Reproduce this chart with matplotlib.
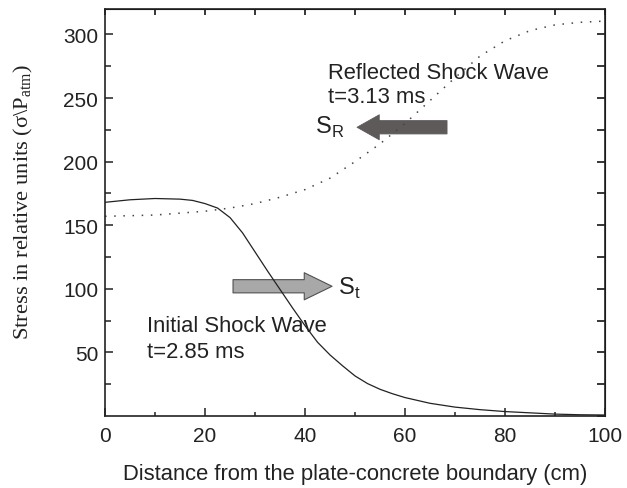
import matplotlib
matplotlib.use("Agg")
import matplotlib.pyplot as plt
from matplotlib.patches import FancyArrowPatch, ArrowStyle

# distance from the plate-concrete boundary (cm)
x_initial = [0, 5, 10, 15, 17.5, 20, 22.5, 25, 27.5, 30, 32.5, 35, 37.5, 40, 42.5,
             45, 47.5, 50, 52.5, 55, 57.5, 60, 65, 70, 75, 80, 85, 90, 95, 100]
stress_initial = [168, 170, 171, 170.5, 169.5, 167, 163.5, 156, 144, 129, 114, 99.5,
                  85, 71, 58, 48, 39.5, 31.5, 25.5, 21, 17.5, 14.5, 10, 7, 5, 3.5,
                  2.5, 1.5, 1, 0.8]

x_reflected = [0, 5, 10, 15, 20, 25, 30, 35, 40, 45, 50, 55, 60, 65, 70, 75,
               80, 85, 90, 95, 100]
stress_reflected = [157, 157.5, 158, 159.5, 161, 163.5, 167, 172, 178, 187, 200, 214,
                    230, 248, 266, 283, 295, 303, 307.5, 309.5, 310.5]

x_ticks = [0, 20, 40, 60, 80, 100]
y_ticks = [50, 100, 150, 200, 250, 300]

plt.rcParams["font.family"] = ["Liberation Sans", "DejaVu Sans"]
plt.rcParams["mathtext.fontset"] = "custom"
plt.rcParams["mathtext.rm"] = "Liberation Serif"
plt.rcParams["mathtext.sf"] = "Liberation Sans"

INK = "#222222"

fig = plt.figure(figsize=(6.27, 4.89), dpi=100)
ax = fig.add_axes([0.1675, 0.1472, 0.7975, 0.8324])

ax.plot(x_initial, stress_initial, color=INK, lw=0.9)
ax.plot(x_reflected, stress_reflected, color="#444444", lw=1.1, ls=(0, (1, 5)))

ax.set_xlim(0, 100)
ax.set_ylim(0, 320)
ax.set_xticks(x_ticks)
ax.set_xticks(range(10, 100, 20), minor=True)
ax.set_yticks(y_ticks)
ax.set_yticks(range(25, 300, 50), minor=True)
ax.tick_params(which="both", direction="in", labelsize=15, colors=INK)
ax.tick_params(axis="x", which="major", length=6, width=1.1, pad=7)
ax.tick_params(axis="x", which="minor", length=3, width=1.1)
ax.tick_params(axis="y", which="major", length=6, width=1.1, pad=5)
ax.tick_params(axis="y", which="minor", length=4, width=1.1)
for sp in ax.spines.values():
    sp.set_linewidth(1.2)
    sp.set_color(INK)

top = ax.secondary_xaxis("top")
top.set_xticks(range(0, 101, 10))
top.tick_params(direction="in", length=4, width=1.1, labeltop=False)
right = ax.secondary_yaxis("right")
right.set_yticks(range(0, 321, 25))
right.tick_params(direction="in", length=6, width=1.1, labelright=False)

ax.set_xlabel("Distance from the plate-concrete boundary (cm)", fontsize=15.8,
              color=INK, labelpad=13)
ax.set_ylabel(r"Stress in relative units (σ\P$_{\rm atm}$)", fontsize=16.2,
              family="Liberation Serif", color=INK)
ax.yaxis.set_label_coords(-0.14, 0.528)

ax.text(44.6, 270, "Reflected Shock Wave", fontsize=15.8, color=INK, va="center")
ax.text(44.6, 251, "t=3.13 ms", fontsize=15.8, color=INK, va="center")
ax.text(42, 228, r"$\mathsf{S}_\mathsf{R}$", fontsize=17, color=INK, va="center")
ax.text(8.4, 71, "Initial Shock Wave", fontsize=15.8, color=INK, va="center")
ax.text(8.4, 51, "t=2.85 ms", fontsize=15.8, color=INK, va="center")
ax.text(46.6, 101, r"$\mathsf{S}_\mathsf{t}$", fontsize=17, color=INK, va="center")

arr_r = FancyArrowPatch((68.4, 227), (50.4, 227),
                        arrowstyle=ArrowStyle.Simple(head_length=1.6, head_width=1.8,
                                                     tail_width=0.96),
                        mutation_scale=10, shrinkA=0, shrinkB=0,
                        fc="#5e5a5a", ec="#5e5a5a", lw=0.6)
ax.add_patch(arr_r)
arr_t = FancyArrowPatch((25.6, 102), (45.4, 102),
                        arrowstyle=ArrowStyle.Simple(head_length=2.0, head_width=1.95,
                                                     tail_width=0.95),
                        mutation_scale=10, shrinkA=0, shrinkB=0,
                        fc="#a8a8a8", ec="#505050", lw=0.8)
ax.add_patch(arr_t)

fig.savefig("out.png", dpi=100)
